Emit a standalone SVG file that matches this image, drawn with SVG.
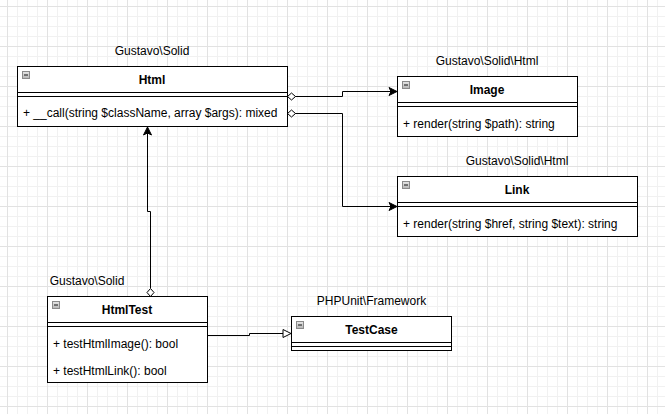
<svg xmlns="http://www.w3.org/2000/svg" width="665" height="414" viewBox="0 0 665 414">
<style>
  text { font-family: "Liberation Sans", Arial, Helvetica, sans-serif; font-size: 12px; fill: #000; }
  .title { font-weight: bold; text-anchor: middle; }
  .pkg { text-anchor: middle; }
  .box { fill: #fff; stroke: #000; stroke-width: 1; }
  .sep { stroke: #000; stroke-width: 1; }
  .edge { fill: none; stroke: #000; stroke-width: 1; }
  .icon { fill: url(#ig); stroke: #8a8a8a; stroke-width: 1; }
  .minus { stroke: #333; stroke-width: 1.2; }
</style>
<defs>
  <pattern id="minor" x="7" y="6" width="10" height="10" patternUnits="userSpaceOnUse">
    <path d="M0 0.5 H10 M0.5 0 V10" stroke="#f1f1f1" stroke-width="1" fill="none"/>
  </pattern>
  <pattern id="major" x="7" y="6" width="40" height="40" patternUnits="userSpaceOnUse">
    <path d="M0 0.5 H40 M0.5 0 V40" stroke="#e2e2e2" stroke-width="1" fill="none"/>
  </pattern>
  <linearGradient id="ig" x1="0" y1="0" x2="0" y2="1">
    <stop offset="0" stop-color="#e8e8e8"/>
    <stop offset="1" stop-color="#b4b4b4"/>
  </linearGradient>
</defs>
<rect width="665" height="414" fill="#fff"/>
<rect width="665" height="414" fill="url(#minor)"/>
<rect width="665" height="414" fill="url(#major)"/>

<g id="connectors">
  <path class="edge" d="M295 96.5 H342.5 V91.5 H391"/>
  <path d="M397 91.5 L389 87.5 L391 91.5 L389 95.5 Z" fill="#000" stroke="#000" stroke-width="1"/>
  <polygon points="287.5,96.5 291.5,93 295.5,96.5 291.5,100" fill="#fff" stroke="#000" stroke-width="1"/>

  <path class="edge" d="M295 113.5 H342.5 V206.5 H391"/>
  <path d="M397 206.5 L389 202.5 L391 206.5 L389 210.5 Z" fill="#000" stroke="#000" stroke-width="1"/>
  <polygon points="287.5,113.5 291.5,110 295.5,113.5 291.5,117" fill="#fff" stroke="#000" stroke-width="1"/>

  <path class="edge" d="M150.5 288 V211.5 H147.5 V133"/>
  <path d="M147.5 127 L143.5 135 L147.5 133 L151.5 135 Z" fill="#000" stroke="#000" stroke-width="1"/>
  <polygon points="150.5,288.5 154,292.5 150.5,296.5 147,292.5" fill="#fff" stroke="#000" stroke-width="1"/>

  <path class="edge" d="M207.5 335.5 H249.5 V333.5 H283"/>
  <polygon points="291,333.5 283,329.5 283,337.5" fill="#fff" stroke="#000" stroke-width="1"/>
</g>

<g id="Html">
  <text class="pkg" x="152" y="55">Gustavo\Solid</text>
  <rect class="box" x="17.5" y="66.5" width="270" height="60"/>
  <line class="sep" x1="17.5" y1="92.5" x2="287.5" y2="92.5"/>
  <line class="sep" x1="17.5" y1="96.5" x2="287.5" y2="96.5"/>
  <rect class="icon" x="22.5" y="71.5" width="7" height="7"/>
  <line class="minus" x1="24" y1="75" x2="28" y2="75"/>
  <text class="title" x="152" y="84">Html</text>
  <text x="23" y="117">+ __call(string $className, array $args): mixed</text>
</g>

<g id="Image">
  <text class="pkg" x="487" y="65">Gustavo\Solid\Html</text>
  <rect class="box" x="397.5" y="76.5" width="180" height="60"/>
  <line class="sep" x1="397.5" y1="102.5" x2="577.5" y2="102.5"/>
  <line class="sep" x1="397.5" y1="106.5" x2="577.5" y2="106.5"/>
  <rect class="icon" x="402.5" y="81.5" width="7" height="7"/>
  <line class="minus" x1="404" y1="85" x2="408" y2="85"/>
  <text class="title" x="487" y="94">Image</text>
  <text x="403" y="127.5">+ render(string $path): string</text>
</g>

<g id="Link">
  <text class="pkg" x="517" y="165">Gustavo\Solid\Html</text>
  <rect class="box" x="397.5" y="176.5" width="240" height="60"/>
  <line class="sep" x1="397.5" y1="202.5" x2="637.5" y2="202.5"/>
  <line class="sep" x1="397.5" y1="206.5" x2="637.5" y2="206.5"/>
  <rect class="icon" x="402.5" y="181.5" width="7" height="7"/>
  <line class="minus" x1="404" y1="185" x2="408" y2="185"/>
  <text class="title" x="517" y="194">Link</text>
  <text x="403" y="227.5">+ render(string $href, string $text): string</text>
</g>

<g id="HtmlTest">
  <text class="pkg" x="87" y="285">Gustavo\Solid</text>
  <rect class="box" x="47.5" y="296.5" width="160" height="86"/>
  <line class="sep" x1="47.5" y1="322.5" x2="207.5" y2="322.5"/>
  <line class="sep" x1="47.5" y1="326.5" x2="207.5" y2="326.5"/>
  <rect class="icon" x="52.5" y="301.5" width="7" height="7"/>
  <line class="minus" x1="54" y1="305" x2="58" y2="305"/>
  <text class="title" x="127" y="314">HtmlTest</text>
  <text x="53" y="347.5">+ testHtmlImage(): bool</text>
  <text x="53" y="374.5">+ testHtmlLink(): bool</text>
</g>

<g id="TestCase">
  <text class="pkg" x="371.5" y="305">PHPUnit\Framework</text>
  <rect class="box" x="291.5" y="316.5" width="160" height="34"/>
  <line class="sep" x1="291.5" y1="342.5" x2="451.5" y2="342.5"/>
  <line class="sep" x1="291.5" y1="346.5" x2="451.5" y2="346.5"/>
  <rect class="icon" x="296.5" y="321.5" width="7" height="7"/>
  <line class="minus" x1="298" y1="325" x2="302" y2="325"/>
  <text class="title" x="371.5" y="334">TestCase</text>
</g>
</svg>
